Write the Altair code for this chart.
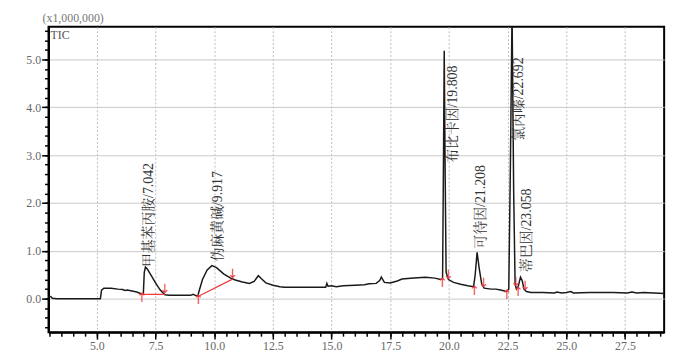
import altair as alt
import pandas as pd

# ---- chromatogram trace (retention time in min, intensity x1,000,000) ----
rt = [2.94, 3.0, 3.05, 3.1, 3.3, 4.0, 5.0, 5.15, 5.2, 5.3, 5.6, 5.9, 6.1, 6.2, 6.3, 6.5, 6.7, 6.9, 6.98,
      7.02, 7.07, 7.15, 7.3, 7.5, 7.7, 7.9, 8.1, 8.5, 9.0, 9.1, 9.2, 9.3, 9.35, 9.5, 9.7, 9.9, 10.1,
      10.4, 10.7, 10.9, 11.2, 11.5, 11.7, 11.88, 12.0, 12.2, 12.5, 12.8, 13.0, 14.0, 14.75, 14.8, 14.85,
      15.0, 15.2, 15.5, 16.0, 16.4, 16.6, 16.9, 17.05, 17.12, 17.25, 17.5, 17.8, 18.0, 18.5, 19.0, 19.4,
      19.65, 19.73, 19.77, 19.8, 19.84, 19.88, 19.98, 20.2, 20.5, 20.8, 21.05, 21.12, 21.2, 21.3, 21.4,
      21.5, 21.8, 22.0, 22.2, 22.45, 22.55, 22.62, 22.69, 22.76, 22.82, 22.88, 22.95, 23.05, 23.12,
      23.2, 23.3, 23.5, 24.0, 24.5, 24.6, 24.8, 25.0, 25.2, 25.3, 26.0, 27.0, 27.6, 27.8, 28.0, 28.3, 29.17]
tic = [0.03, 0.05, 0.04, 0.01, 0.0, 0.0, 0.0, 0.0, 0.18, 0.22, 0.22, 0.2, 0.19, 0.17, 0.18, 0.16, 0.14, 0.1, 0.1,
       0.55, 0.66, 0.62, 0.5, 0.33, 0.18, 0.08, 0.07, 0.07, 0.07, 0.09, 0.07, 0.05, 0.15, 0.4, 0.6, 0.69, 0.65,
       0.52, 0.43, 0.39, 0.35, 0.32, 0.36, 0.48, 0.42, 0.33, 0.28, 0.25, 0.24, 0.24, 0.24, 0.32, 0.26,
       0.27, 0.25, 0.27, 0.28, 0.29, 0.31, 0.32, 0.38, 0.45, 0.34, 0.33, 0.37, 0.41, 0.43, 0.45, 0.43,
       0.40, 0.42, 3.0, 5.18, 2.6, 0.55, 0.40, 0.34, 0.3, 0.27, 0.25, 0.5, 0.97, 0.6, 0.3,
       0.22, 0.2, 0.2, 0.18, 0.15, 0.2, 2.8, 6.0, 2.2, 0.3, 0.2, 0.25, 0.45, 0.38,
       0.2, 0.15, 0.13, 0.13, 0.12, 0.14, 0.12, 0.13, 0.15, 0.12, 0.13, 0.13, 0.12, 0.14, 0.12, 0.13, 0.11]

# ---- peak labels ----
label_text = ["甲基苯丙胺/7.042", "伪麻黄碱/9.917", "布比卡因/19.808", "可待因/21.208", "氯丙嗪/22.692", "蒂巴因/23.058"]
label_rt = [7.22, 10.15, 20.17, 21.37, 23.0, 23.35]
label_y = [0.66, 0.78, 2.84, 1.05, 3.3, 0.56]

# ---- integration markers ----
start_rt = [6.92, 9.33, 19.72, 21.08, 22.47, 22.95]
start_y = [0.09, 0.05, 0.40, 0.25, 0.16, 0.22]
end_rt = [7.9, 10.78, 19.98, 21.48, 22.85, 23.25]
end_y = [0.09, 0.41, 0.40, 0.22, 0.25, 0.17]
base_rt = [6.92, 9.33]
base_y = [0.09, 0.05]
base_rt2 = [7.9, 10.78]
base_y2 = [0.09, 0.41]

x_major = [5.0, 7.5, 10.0, 12.5, 15.0, 17.5, 20.0, 22.5, 25.0, 27.5]
x_minor = [round(3.0 + 0.5 * i, 1) for i in range(53)]
y_major = [0.0, 1.0, 2.0, 3.0, 4.0, 5.0]
y_minor = [round(-0.6 + 0.2 * i, 1) for i in range(32)]

SERIF = "Liberation Serif, 'Noto Serif CJK SC', 'Noto Sans CJK SC', serif"
AXFONT = "Liberation Serif"
xdom = [2.94, 29.17]
ydom = [-0.7, 5.68]

xs = alt.Scale(domain=xdom, nice=False, zero=False)
ys = alt.Scale(domain=ydom, nice=False, zero=False)

x_axis = alt.Axis(
    values=x_major, title=None, orient="bottom", format=".1f",
    labelFont=AXFONT, labelFontSize=12, labelColor="#666666", labelPadding=2,
    tickSize=7, tickColor="black", tickWidth=1.5,
    domainColor="black", domainWidth=2,
    grid=True, gridColor="#bdbdbd", gridDash=[2, 2], gridWidth=1,
)
y_axis = alt.Axis(
    values=y_major, title=None, orient="left", format=".1f",
    labelFont=AXFONT, labelFontSize=12, labelColor="#666666", labelPadding=1,
    tickSize=7, tickColor="black", tickWidth=1.5,
    domainColor="black", domainWidth=2,
    grid=True, gridColor="#c8c8c8", gridWidth=1,
)
x_axis_minor = alt.Axis(
    values=x_minor, title=None, orient="bottom", labels=False, domain=False, grid=False,
    tickSize=4, tickColor="black", tickWidth=1.5,
)
y_axis_minor = alt.Axis(
    values=y_minor, title=None, orient="left", labels=False, domain=False, grid=False,
    tickSize=4, tickColor="black", tickWidth=1.5,
)

trace = pd.DataFrame({"rt": rt, "tic": tic})
line = alt.Chart(trace).mark_line(color="#1a1a1a", strokeWidth=1.5, clip=True).encode(
    x=alt.X("rt:Q", scale=xs, axis=x_axis),
    y=alt.Y("tic:Q", scale=ys, axis=y_axis),
)
minor = alt.Chart(trace).mark_line(opacity=0, clip=True).encode(
    x=alt.X("rt:Q", scale=xs, axis=x_axis_minor),
    y=alt.Y("tic:Q", scale=ys, axis=y_axis_minor),
)

base = pd.DataFrame({"x": base_rt, "y": base_y, "x2": base_rt2, "y2": base_y2})
base_lines = alt.Chart(base).mark_rule(color="#f03c3c", strokeWidth=1.3).encode(
    x=alt.X("x:Q", scale=xs, axis=None), y=alt.Y("y:Q", scale=ys, axis=None),
    x2="x2:Q", y2="y2:Q",
)

starts = pd.DataFrame({"x": start_rt, "y": start_y})
ends = pd.DataFrame({"x": end_rt, "y": end_y})
up = alt.Chart(starts).mark_text(text="↑", color="#f03c3c", fontSize=13, baseline="top",
                                 font="DejaVu Sans", dy=-2).encode(
    x=alt.X("x:Q", scale=xs, axis=None), y=alt.Y("y:Q", scale=ys, axis=None))
down = alt.Chart(ends).mark_text(text="↓", color="#f03c3c", fontSize=13, baseline="bottom",
                                 font="DejaVu Sans", dy=2).encode(
    x=alt.X("x:Q", scale=xs, axis=None), y=alt.Y("y:Q", scale=ys, axis=None))

labels = pd.DataFrame({"x": label_rt, "y": label_y, "t": label_text})
peak_labels = alt.Chart(labels).mark_text(angle=270, align="left", baseline="middle",
                                          font=SERIF, fontSize=14, color="#333333").encode(
    x=alt.X("x:Q", scale=xs, axis=None), y=alt.Y("y:Q", scale=ys, axis=None), text="t:N")

head = pd.DataFrame({"t": ["(x1,000,000)"]})
title = alt.Chart(head).mark_text(align="left", baseline="middle", font=SERIF, fontSize=12,
                                  color="#777777").encode(
    x=alt.value(-6), y=alt.value(-9), text="t:N")
tic_lab = alt.Chart(pd.DataFrame({"t": ["TIC"]})).mark_text(
    align="left", baseline="middle", font=SERIF, fontSize=12, color="#555555").encode(
    x=alt.value(2), y=alt.value(8), text="t:N")

chart = alt.layer(line, minor, base_lines, up, down, peak_labels, title, tic_lab).resolve_axis(
    x="independent", y="independent"
).properties(
    width=623, height=309,
    padding={"left": 41, "top": 17, "right": 12, "bottom": 20},
    autosize=alt.AutoSizeParams(type="none"),
    background="white",
).configure_view(stroke="black", strokeWidth=2)

chart.save("out.html", embed_options={"renderer": "svg", "actions": False})
